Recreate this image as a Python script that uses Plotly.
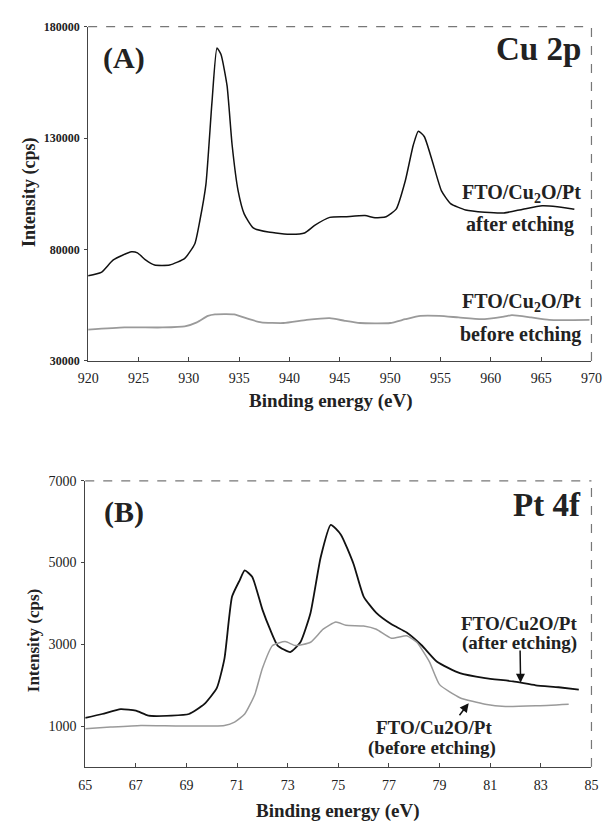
import plotly.graph_objects as go

# ---------------- Panel A: Cu 2p ----------------
cu_after_x = [920.0, 921.3, 922.5, 924.3, 924.9, 925.7, 926.6, 928.1, 929.6, 930.6, 931.1, 931.7,
              932.3, 932.8, 933.2, 933.8, 934.3, 934.9, 935.5, 936.4, 937.9, 940.2, 941.5, 942.5,
              944.0, 945.5, 947.5, 948.5, 949.6, 950.6, 951.5, 952.3, 952.8, 953.4, 954.2, 955.1,
              956.0, 957.5, 959.4, 961.3, 963.2, 965.1, 966.6, 968.3]
cu_after_y = [68200, 69700, 75300, 79000, 78500, 75300, 73000, 73000, 76000, 82600, 93000, 109200,
              146000, 170400, 167500, 153500, 127000, 106300, 96000, 89700, 87800, 86800, 87400, 90800,
              94400, 94700, 95200, 94200, 94700, 98100, 110700, 126900, 133100, 130600, 119500, 106300,
              100600, 97700, 96700, 96400, 98100, 99600, 99200, 98100]

cu_before_x = [920.0, 923.6, 927.4, 929.6, 930.8, 931.9, 932.6, 934.5, 936.0, 937.2, 939.4, 941.7,
               944.0, 945.5, 947.0, 950.0, 951.5, 953.0, 954.9, 956.8, 959.1, 961.3, 962.1, 964.0,
               965.8, 969.8]
cu_before_y = [44000, 45000, 45000, 45500, 47300, 50200, 50900, 50900, 48700, 47300, 47000, 48400,
               49200, 48000, 47000, 47000, 48700, 50200, 50200, 49500, 48700, 49900, 50500, 49500,
               48400, 48400]

# ---------------- Panel B: Pt 4f ----------------
pt_after_x = [65.0, 65.67, 66.4, 67.0, 67.5, 68.4, 69.1, 69.7, 70.2, 70.5, 70.8, 71.1, 71.3, 71.6,
              72.0, 72.3, 72.6, 73.1, 73.5, 73.9, 74.3, 74.7, 75.1, 75.6, 76.0, 76.5, 77.1, 77.7,
              78.3, 78.9, 79.8, 80.8, 81.9, 82.8, 83.7, 84.5]
pt_after_y = [1200, 1294, 1414, 1374, 1254, 1254, 1294, 1534, 1933, 2651, 4167, 4566, 4806, 4646,
              3848, 3369, 2970, 2810, 3050, 3768, 5125, 5923, 5683, 4965, 4167, 3768, 3489, 3289,
              2970, 2571, 2292, 2172, 2092, 1997, 1949, 1893]

pt_before_x = [65.0, 66.0, 67.2, 68.8, 70.5, 70.9, 71.3, 71.7, 72.0, 72.4, 72.9, 73.3, 73.9, 74.4,
               74.9, 75.3, 76.0, 76.5, 77.1, 77.7, 78.1, 78.6, 79.0, 79.8, 80.8, 81.6, 82.8, 84.1]
pt_before_y = [935, 975, 1015, 1000, 1015, 1095, 1294, 1773, 2412, 2970, 3066, 2970, 3050, 3369,
               3545, 3465, 3449, 3369, 3146, 3210, 3050, 2571, 2013, 1693, 1534, 1478, 1494, 1534]

a_xticks = [920, 925, 930, 935, 940, 945, 950, 955, 960, 965, 970]
a_yticks = [30000, 80000, 130000, 180000]
b_xticks = [65, 67, 69, 71, 73, 75, 77, 79, 81, 83, 85]
b_yticks = [1000, 3000, 5000, 7000]

W, H = 615, 825
def px(x): return x / W
def py(y): return 1 - y / H

SERIF = "Liberation Serif"
DARK = "#111111"
GRAY = "#9a9a9a"
AX = "#444444"
TXT = "#222222"

fig = go.Figure()
def line_trace(x, y, color, width, xa, ya):
    fig.add_trace(go.Scatter(x=x, y=y, mode="lines",
                             line=dict(color=color, width=width, shape="spline", smoothing=0.5),
                             xaxis=xa, yaxis=ya, showlegend=False))

line_trace(cu_after_x, cu_after_y, DARK, 1.5, "x", "y")
line_trace(cu_before_x, cu_before_y, GRAY, 1.8, "x", "y")
line_trace(pt_after_x, pt_after_y, DARK, 1.8, "x2", "y2")
line_trace(pt_before_x, pt_before_y, GRAY, 1.5, "x2", "y2")

def xaxis_cfg(size, standoff):
    return dict(showline=True, linecolor=AX, linewidth=1, ticks="inside", ticklen=4, tickcolor=AX,
                showgrid=False, zeroline=False, tickformat="d", ticklabelstandoff=standoff,
                tickfont=dict(family=SERIF, size=size, color=TXT))

def yaxis_cfg(size, weight):
    return dict(showline=True, linecolor=AX, linewidth=1, ticks="outside", ticklen=3, tickcolor=AX,
                showgrid=False, zeroline=False, tickformat="d", ticklabelstandoff=2,
                tickfont=dict(family=SERIF, size=size, color=TXT, weight=weight))

fig.update_layout(
    width=W, height=H, margin=dict(l=0, r=0, t=0, b=0),
    paper_bgcolor="white", plot_bgcolor="white",
    font=dict(family=SERIF),
    xaxis=dict(domain=[px(80), px(602)], range=[920, 970], tickvals=a_xticks, anchor="y", **xaxis_cfg(14, 4)),
    yaxis=dict(domain=[py(360), py(20)], range=[30000, 180000], tickvals=a_yticks, anchor="x",
               **yaxis_cfg(12, "bold")),
    xaxis2=dict(domain=[px(77), px(602)], range=[65, 85], tickvals=b_xticks, anchor="y2", **xaxis_cfg(14, 5)),
    yaxis2=dict(domain=[py(773), py(482)], range=[0, 7000], tickvals=b_yticks, anchor="x2",
                **yaxis_cfg(14, "normal")),
)

# dashed top and right borders
for xr, yr in (("x domain", "y domain"), ("x2 domain", "y2 domain")):
    fig.add_shape(type="line", xref=xr, yref=yr, x0=0, x1=1, y0=1, y1=1,
                  line=dict(color="#777", width=1.2, dash="dash"))
    fig.add_shape(type="line", xref=xr, yref=yr, x0=1, x1=1, y0=0, y1=1,
                  line=dict(color="#777", width=1.2, dash="dash"))

def ann(text, x, y, size, xanchor="center", yanchor="middle", bold=True, textangle=0):
    fig.add_annotation(text=("<b>%s</b>" % text) if bold else text, x=px(x), y=py(y),
                       xref="paper", yref="paper", showarrow=False, xanchor=xanchor, yanchor=yanchor,
                       textangle=textangle, borderpad=0,
                       font=dict(family=SERIF, size=size, color=TXT))

# axis titles
ann("Binding energy (eV)", 332, 401, 19)
ann("Intensity (cps)", 20, 188, 18, textangle=-90)
ann("Binding energy (eV)", 339, 818, 19)
ann("Intensity (cps)", 23, 645, 17, textangle=-90)

# panel labels
ann("(A)", 117, 52, 30)
ann("Cu 2p", 592, 43, 33, xanchor="right")
ann("(B)", 117, 514, 30)
ann("Pt 4f", 592, 507, 33, xanchor="right")

# series labels panel A
ann("FTO/Cu<sub>2</sub>O/Pt", 592, 190, 20, xanchor="right")
ann("after etching", 585, 221, 20, xanchor="right")
ann("FTO/Cu<sub>2</sub>O/Pt", 592, 301, 20, xanchor="right")
ann("before etching", 592, 333, 20, xanchor="right")

# series labels panel B
ann("FTO/Cu2O/Pt", 527, 627, 19)
ann("(after etching)", 527, 647, 19)
ann("FTO/Cu2O/Pt", 439, 733, 19)
ann("(before etching)", 437, 754, 19)

# arrows panel B
fig.add_annotation(x=82.2, y=2060, xref="x2", yref="y2", ax=82.18, ay=2887, axref="x2", ayref="y2",
                   showarrow=True, arrowhead=2, arrowsize=1.2, arrowwidth=1.5, arrowcolor="#111", text="")
fig.add_annotation(x=80.15, y=1560, xref="x2", yref="y2", ax=79.74, ay=1228, axref="x2", ayref="y2",
                   showarrow=True, arrowhead=2, arrowsize=1.2, arrowwidth=1.5, arrowcolor="#111", text="")

fig.write_html("out.html")
